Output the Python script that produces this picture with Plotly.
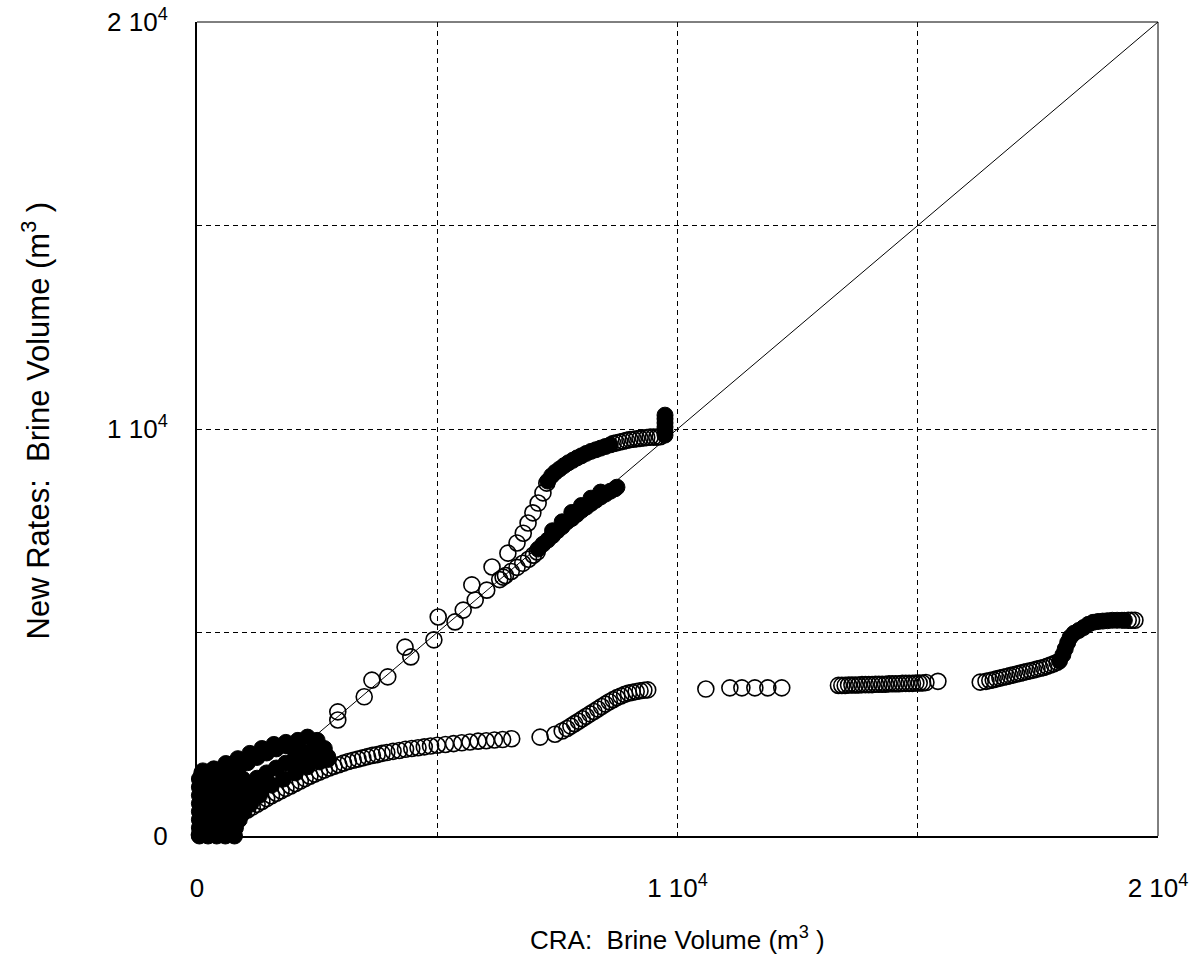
import plotly.graph_objects as go

# Brine volumes in thousands of m^3 (CRA on x, new rates on y)

# Heavily overlapping low-volume vectors near the origin
blob_x = [0.05, 0.23, 0.41, 0.59, 0.78,
          0.05, 0.23, 0.41, 0.59, 0.8,
          0.05, 0.23, 0.41, 0.59, 0.77, 0.88,
          0.05, 0.23, 0.41, 0.59, 0.77, 0.98,
          0.05, 0.23, 0.41, 0.59, 0.77, 0.95, 1.12,
          0.05, 0.23, 0.41, 0.59, 0.77, 0.95, 1.13, 1.3,
          0.05, 0.23, 0.41, 0.59, 0.77, 0.95, 1.13,
          0.05, 0.23, 0.41, 0.59, 0.77, 0.95,
          0.12, 0.3, 0.48, 0.66, 0.84,
          0.7, 0.88,
          1.25, 1.45, 1.65, 1.85, 2.05,
          1.05, 1.25, 1.45, 1.65, 1.85,
          0.1, 0.35, 0.6, 0.85, 1.1, 1.35, 1.6, 1.85, 2.1, 2.3, 2.5, 2.65, 2.72,
          1.35, 1.55, 1.8, 2.05, 2.3, 2.55, 2.72,
          2.05, 2.2, 2.4, 2.6, 2.3, 2.5]
blob_y = [0.0, 0.0, 0.0, 0.0, 0.0,
          0.2, 0.2, 0.2, 0.2, 0.2,
          0.4, 0.4, 0.4, 0.4, 0.4, 0.4,
          0.6, 0.6, 0.6, 0.6, 0.6, 0.6,
          0.8, 0.8, 0.8, 0.8, 0.8, 0.8, 0.8,
          1.0, 1.0, 1.0, 1.0, 1.0, 1.0, 1.0, 1.0,
          1.2, 1.2, 1.2, 1.2, 1.2, 1.2, 1.2,
          1.4, 1.4, 1.4, 1.4, 1.4, 1.4,
          1.6, 1.6, 1.6, 1.6, 1.6,
          1.75, 1.75,
          1.42, 1.55, 1.67, 1.79, 1.88,
          1.8, 1.93, 2.04, 2.14, 2.22,
          1.55, 1.65, 1.78, 1.9, 2.03, 2.15, 2.25, 2.3, 2.35, 2.43, 2.35, 2.15, 1.95,
          1.15, 1.25, 1.4, 1.55, 1.7, 1.82, 1.88,
          2.05, 2.05, 2.1, 2.0, 1.85, 1.9]

# Vectors following the 1:1 line, then bending up to ~1e4
rise_x = [2.93, 2.93, 3.48, 3.64, 3.97, 4.33, 4.45, 4.93, 5.02, 5.37, 5.54, 5.72,
          5.79, 6.03, 6.14, 6.37, 6.47, 6.66, 6.79, 6.89, 6.99, 7.1, 7.2, 7.28,
          8.66, 8.73, 8.8, 8.87, 8.94, 9.01, 9.08, 9.15, 9.22, 9.29, 9.36, 9.43,
          9.5, 9.57, 9.64]
rise_y = [3.05, 2.85, 3.42, 3.83, 3.91, 4.64, 4.4, 4.82, 5.38, 5.26, 5.55, 6.17,
          5.8, 6.04, 6.61, 6.36, 6.95, 7.2, 7.44, 7.69, 7.94, 8.18, 8.43, 8.67,
          9.64, 9.66, 9.68, 9.7, 9.72, 9.74, 9.75, 9.76, 9.77, 9.78, 9.79, 9.8,
          9.8, 9.8, 9.81]
rise_dense_x = [7.3, 7.38, 7.46, 7.55, 7.64, 7.73, 7.82, 7.91, 8.0, 8.1, 8.2, 8.3,
                8.4, 8.5, 8.6,
                9.74, 9.74, 9.74, 9.74, 9.74, 9.74]
rise_dense_y = [8.72, 8.85, 8.94, 9.02, 9.1, 9.17, 9.23, 9.29, 9.34, 9.4, 9.45, 9.49,
                9.53, 9.57, 9.61,
                9.85, 9.95, 10.05, 10.15, 10.25, 10.34]

# Vectors tracking the 1:1 line up to ~8.7e3
diag_x = [6.3, 6.42, 6.54, 6.66, 6.78, 6.9, 7.0, 7.08]
diag_y = [6.3, 6.4, 6.5, 6.6, 6.7, 6.8, 6.9, 6.98]
diag_dense_x = [7.1, 7.2, 7.3, 7.4, 7.5, 7.6, 7.7, 7.8, 7.9, 8.0, 8.1, 8.2, 8.3,
                8.4, 8.5, 8.6, 8.7, 8.74, 7.4, 7.6, 7.8, 8.0, 8.2, 8.4]
diag_dense_y = [7.05, 7.17, 7.27, 7.38, 7.5, 7.6, 7.72, 7.8, 7.9, 8.0, 8.08, 8.17,
                8.25, 8.33, 8.4, 8.47, 8.53, 8.57, 7.5, 7.72, 7.95, 8.12, 8.3, 8.45]

# Vectors with much lower new-rate volumes
low_x = [0.05, 0.15, 0.25, 0.35, 0.45, 0.55, 0.65, 0.75, 0.85, 0.95, 1.05, 1.15,
         1.25, 1.35, 1.45, 1.55, 1.65, 1.75, 1.85, 1.95, 2.05, 2.15, 2.25, 2.35,
         2.45, 2.55, 2.65, 2.75, 2.85, 2.95, 3.05, 3.15, 3.25, 3.35, 3.45, 3.55,
         3.65, 3.75, 3.85, 3.95, 4.08, 4.21, 4.34, 4.47, 4.6, 4.73, 4.86, 5.0,
         5.17, 5.34, 5.51, 5.68, 5.85, 6.02, 6.19, 6.36, 6.55, 7.14, 7.45,
         7.6, 7.7, 7.78, 7.86, 7.94, 8.02, 8.1, 8.18, 8.26, 8.34, 8.42, 8.5, 8.58,
         8.66, 8.74, 8.82, 8.9, 8.98, 9.06, 9.14, 9.22, 9.3, 9.38,
         10.59, 11.09, 11.34, 11.61, 11.88, 12.17,
         13.35, 13.42, 13.49, 13.56, 13.63, 13.7, 13.77, 13.84, 13.91, 13.98, 14.05,
         14.12, 14.19, 14.26, 14.33, 14.4, 14.47, 14.54, 14.61, 14.68, 14.75, 14.82,
         14.89, 14.96, 15.03, 15.1, 15.17, 15.42,
         16.3, 16.42, 16.5, 16.57, 16.64, 16.71, 16.78, 16.85, 16.92, 16.99, 17.06,
         17.13, 17.2, 17.27, 17.34, 17.41, 17.48, 17.55, 17.62, 17.69, 17.76, 17.83,
         17.9, 19.38, 19.45, 19.52]
low_y = [0.03, 0.08, 0.13, 0.18, 0.24, 0.3, 0.36, 0.43, 0.5, 0.57, 0.64, 0.71,
         0.78, 0.85, 0.92, 0.99, 1.05, 1.11, 1.17, 1.23, 1.29, 1.35, 1.41, 1.47,
         1.52, 1.57, 1.62, 1.67, 1.71, 1.75, 1.79, 1.83, 1.86, 1.89, 1.92, 1.95,
         1.98, 2.0, 2.03, 2.05, 2.08, 2.1, 2.13, 2.15, 2.17, 2.19, 2.21, 2.23,
         2.25, 2.27, 2.29, 2.31, 2.33, 2.34, 2.36, 2.37, 2.39, 2.43, 2.5,
         2.58, 2.64, 2.7, 2.76, 2.82, 2.88, 2.94, 3.0, 3.06, 3.12, 3.18, 3.24, 3.3,
         3.35, 3.4, 3.44, 3.48, 3.51, 3.53, 3.55, 3.57, 3.58, 3.59,
         3.61, 3.64, 3.64, 3.64, 3.64, 3.64,
         3.7, 3.7, 3.7, 3.71, 3.71, 3.71, 3.71, 3.72, 3.72, 3.72, 3.72,
         3.73, 3.73, 3.73, 3.73, 3.74, 3.74, 3.74, 3.74, 3.75, 3.75, 3.75,
         3.75, 3.76, 3.76, 3.76, 3.77, 3.8,
         3.78, 3.8, 3.82, 3.84, 3.86, 3.88, 3.9, 3.92, 3.94, 3.96, 3.98,
         4.0, 4.02, 4.04, 4.06, 4.08, 4.1, 4.12, 4.14, 4.17, 4.2, 4.23,
         4.27, 5.3, 5.3, 5.3]
low_dense_x = [17.95, 18.02, 18.07, 18.12, 18.17, 18.25, 18.35, 18.45, 18.55, 18.65,
               18.75, 18.85, 18.95, 19.05, 19.15, 19.25, 19.3]
low_dense_y = [4.3, 4.45, 4.6, 4.75, 4.88, 4.98, 5.05, 5.12, 5.2, 5.25, 5.27, 5.28,
               5.29, 5.3, 5.3, 5.3, 5.3]

open_groups = [(rise_x, rise_y), (diag_x, diag_y), (low_x, low_y)]
solid_groups = [(blob_x, blob_y), (rise_dense_x, rise_dense_y),
                (diag_dense_x, diag_dense_y), (low_dense_x, low_dense_y)]

fig = go.Figure()

# 1:1 reference line
fig.add_trace(go.Scatter(
    x=[0, 20000], y=[0, 20000], mode="lines",
    line=dict(color="black", width=1), showlegend=False, hoverinfo="skip",
))

for gx, gy in open_groups:
    fig.add_trace(go.Scatter(
        x=[v * 1000 for v in gx], y=[v * 1000 for v in gy], mode="markers",
        marker=dict(symbol="circle-open", size=16, color="black",
                    line=dict(width=1.6, color="black")),
        cliponaxis=False, showlegend=False,
    ))

# Stretches where the circles pile up so tightly they read as solid black
for gx, gy in solid_groups:
    fig.add_trace(go.Scatter(
        x=[v * 1000 for v in gx], y=[v * 1000 for v in gy], mode="markers",
        marker=dict(symbol="circle", size=16, color="black",
                    line=dict(width=1, color="black")),
        cliponaxis=False, showlegend=False,
    ))

font_family = "Liberation Sans, Arial, sans-serif"

axis_common = dict(
    range=[0, 20000], tickvals=[0, 10000, 20000],
    ticktext=["0", "1 10<sup>4</sup>", "2 10<sup>4</sup>"],
    showgrid=True, gridcolor="black", gridwidth=1, griddash="5px,4px",
    minor=dict(tickvals=[5000, 15000], showgrid=True, gridcolor="black",
               gridwidth=1, griddash="5px,4px", ticks=""),
    zeroline=False, showline=True, linecolor="black", linewidth=2,
    ticks="", automargin=False,
    tickfont=dict(family=font_family, size=26, color="black"),
)

fig.update_layout(
    width=1196, height=964,
    margin=dict(l=197, r=38, t=22, b=128),
    paper_bgcolor="white", plot_bgcolor="white",
    font=dict(family=font_family, color="black"),
    xaxis=dict(**axis_common, ticklabelstandoff=28),
    yaxis=dict(**axis_common, ticklabelstandoff=22),
    shapes=[
        dict(type="line", xref="paper", yref="paper", x0=0, x1=1, y0=1, y1=1,
             line=dict(color="black", width=1)),
        dict(type="line", xref="paper", yref="paper", x0=1, x1=1, y0=0, y1=1,
             line=dict(color="black", width=1)),
    ],
    annotations=[
        dict(text="CRA:  Brine Volume (m<sup>3</sup> )", xref="paper", yref="paper",
             x=0.5, y=-0.126, xanchor="center", yanchor="middle", showarrow=False,
             font=dict(family=font_family, size=26, color="black")),
        dict(text="New Rates:  Brine Volume (m<sup>3</sup> )", xref="paper", yref="paper",
             x=-0.168, y=0.51, xanchor="center", yanchor="middle", textangle=-90,
             showarrow=False, font=dict(family=font_family, size=31, color="black")),
    ],
)

fig.write_html("out.html")
